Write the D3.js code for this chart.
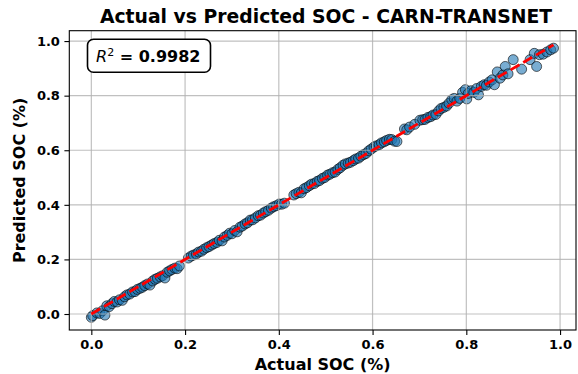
<!DOCTYPE html>
<html><head><meta charset="utf-8">
<script src="https://cdn.jsdelivr.net/npm/d3@7"></script>
<style>body{margin:0;background:#fff}svg{display:block}</style>
</head><body>
<svg id="c" width="578" height="374"></svg>
<script>
const title = "Actual vs Predicted SOC - CARN-TRANSNET";
const xLabel = "Actual SOC (%)";
const yLabel = "Predicted SOC (%)";
const r2Value = "0.9982";
const tickValues = [0.0, 0.2, 0.4, 0.6, 0.8, 1.0];
const actual = [0.000,0.003,0.012,0.018,0.024,0.029,0.033,0.038,0.044,0.049,0.055,0.060,0.066,0.071,0.076,0.082,0.088,0.093,0.098,0.104,0.109,0.114,0.120,0.125,0.131,0.136,0.141,0.147,0.152,0.157,0.162,0.167,0.172,0.178,0.183,0.188,
0.207,0.213,0.218,0.224,0.229,0.235,0.240,0.246,0.251,0.257,0.262,0.268,0.273,0.279,0.284,0.290,0.295,0.300,0.306,0.311,0.317,0.322,0.328,0.333,0.339,0.344,0.350,0.356,0.361,0.367,0.372,0.378,0.384,0.389,0.395,0.401,0.406,0.412,
0.432,0.437,0.443,0.448,0.454,0.459,0.465,0.470,0.476,0.482,0.487,0.493,0.498,0.504,0.509,0.515,0.520,0.526,0.531,0.537,0.542,0.548,0.553,0.559,0.564,0.570,0.575,0.581,0.586,0.592,0.597,0.603,0.608,0.614,0.619,0.625,0.630,0.636,0.641,0.647,0.652,
0.668,0.673,0.679,0.690,0.701,0.707,0.712,0.718,0.724,0.729,0.735,0.741,0.746,0.752,0.758,0.763,0.769,0.774,0.780,0.786,0.792,0.798,0.801,0.804,0.810,0.816,0.822,0.826,0.832,0.838,0.843,0.849,0.855,0.860,0.866,0.872,0.878,0.883,0.889,0.900,0.918,0.936,0.945,0.950,0.956,0.964,0.972,0.980,0.986];
const predicted = [-0.012,-0.006,0.004,0.002,0.012,-0.004,0.030,0.027,0.038,0.046,0.044,0.052,0.050,0.063,0.070,0.073,0.081,0.082,0.090,0.094,0.098,0.104,0.110,0.106,0.121,0.127,0.131,0.136,0.140,0.132,0.153,0.158,0.163,0.168,0.166,0.176,
0.205,0.212,0.216,0.220,0.227,0.230,0.237,0.243,0.247,0.253,0.258,0.262,0.270,0.268,0.282,0.288,0.296,0.294,0.306,0.301,0.318,0.322,0.330,0.334,0.344,0.345,0.352,0.360,0.362,0.370,0.375,0.380,0.388,0.393,0.397,0.403,0.402,0.406,
0.436,0.441,0.446,0.444,0.459,0.463,0.470,0.476,0.478,0.486,0.489,0.497,0.500,0.509,0.512,0.518,0.520,0.530,0.536,0.545,0.550,0.553,0.556,0.562,0.568,0.571,0.578,0.584,0.588,0.598,0.604,0.612,0.616,0.620,0.627,0.631,0.636,0.640,0.639,0.633,0.632,
0.678,0.675,0.685,0.695,0.710,0.712,0.713,0.720,0.723,0.729,0.731,0.744,0.753,0.757,0.762,0.772,0.785,0.790,0.780,0.790,0.812,0.822,0.788,0.808,0.818,0.812,0.826,0.803,0.834,0.840,0.838,0.850,0.858,0.840,0.887,0.864,0.876,0.907,0.880,0.932,0.897,0.932,0.955,0.907,0.950,0.952,0.960,0.968,0.974];

const svg = d3.select("#c");
const L = 69.3, R = 576, T = 30.7, B = 330;
const x = d3.scaleLinear().domain([-0.047, 1.034]).range([L, R]);
const y = d3.scaleLinear().domain([-0.0586, 1.038]).range([B, T]);
const font = "'DejaVu Sans', sans-serif";

const data = actual.map((a, i) => ({a, p: predicted[i]}));

// scatter
svg.append("g").selectAll("circle").data(data).join("circle")
  .attr("cx", d => x(d.a)).attr("cy", d => y(d.p)).attr("r", 5)
  .attr("fill", "#1f77b4").attr("fill-opacity", 0.6)
  .attr("stroke", "#000").attr("stroke-opacity", 0.6).attr("stroke-width", 1);

// grid (above scatter like matplotlib)
const grid = svg.append("g").attr("stroke", "#b0b0b0").attr("stroke-opacity", 0.8).attr("stroke-width", 1.2);
tickValues.forEach(t => {
  grid.append("line").attr("x1", x(t)).attr("x2", x(t)).attr("y1", T).attr("y2", B);
  grid.append("line").attr("y1", y(t)).attr("y2", y(t)).attr("x1", L).attr("x2", R);
});

// identity line
const lo = d3.min(actual), hi = d3.max(actual);
svg.append("line").attr("x1", x(lo)).attr("y1", y(lo)).attr("x2", x(hi)).attr("y2", y(hi))
  .attr("stroke", "red").attr("stroke-width", 2.8).attr("stroke-dasharray", "10.3,4.4");

// axes
const xAxis = d3.axisBottom(x).tickValues(tickValues).tickFormat(d3.format(".1f")).tickSizeOuter(0).tickSize(4.9).tickPadding(4.5);
const yAxis = d3.axisLeft(y).tickValues(tickValues).tickFormat(d3.format(".1f")).tickSizeOuter(0).tickSize(4.9).tickPadding(4.5);
const gx = svg.append("g").attr("transform", `translate(0,${B})`).call(xAxis);
const gy = svg.append("g").attr("transform", `translate(${L},0)`).call(yAxis);
[gx, gy].forEach(g => {
  g.select(".domain").remove();
  g.selectAll(".tick line").attr("stroke", "#000").attr("stroke-width", 1.1);
  g.selectAll(".tick text").attr("font-family", font).attr("font-weight", "bold").attr("font-size", 13).attr("fill", "#000");
});
// frame
svg.append("rect").attr("x", L).attr("y", T).attr("width", R - L).attr("height", B - T)
  .attr("fill", "none").attr("stroke", "#000").attr("stroke-width", 1.1);

// labels
svg.append("text").attr("x", 326).attr("y", 22.7).attr("text-anchor", "middle")
  .attr("font-family", font).attr("font-weight", "bold").attr("font-size", 18.8).text(title);
svg.append("text").attr("x", (L + R) / 2).attr("y", 370).attr("text-anchor", "middle")
  .attr("font-family", font).attr("font-weight", "bold").attr("font-size", 16).text(xLabel);
svg.append("text").attr("transform", `translate(25,${(T + B) / 2}) rotate(-90)`).attr("text-anchor", "middle")
  .attr("font-family", font).attr("font-weight", "bold").attr("font-size", 16).text(yLabel);

// R2 box
svg.append("rect").attr("x", 87.5).attr("y", 39.3).attr("width", 123).attr("height", 33).attr("rx", 6)
  .attr("fill", "#fff").attr("stroke", "#000").attr("stroke-width", 1.6);
const t = svg.append("text").attr("x", 96).attr("y", 62).attr("font-family", font).attr("font-size", 16);
t.append("tspan").attr("font-style", "italic").text("R");
t.append("tspan").attr("font-size", 11).attr("dy", -6.5).text("2");
t.append("tspan").attr("dy", 6.5).attr("font-weight", "bold").text(" = " + r2Value);
</script>
</body></html>
